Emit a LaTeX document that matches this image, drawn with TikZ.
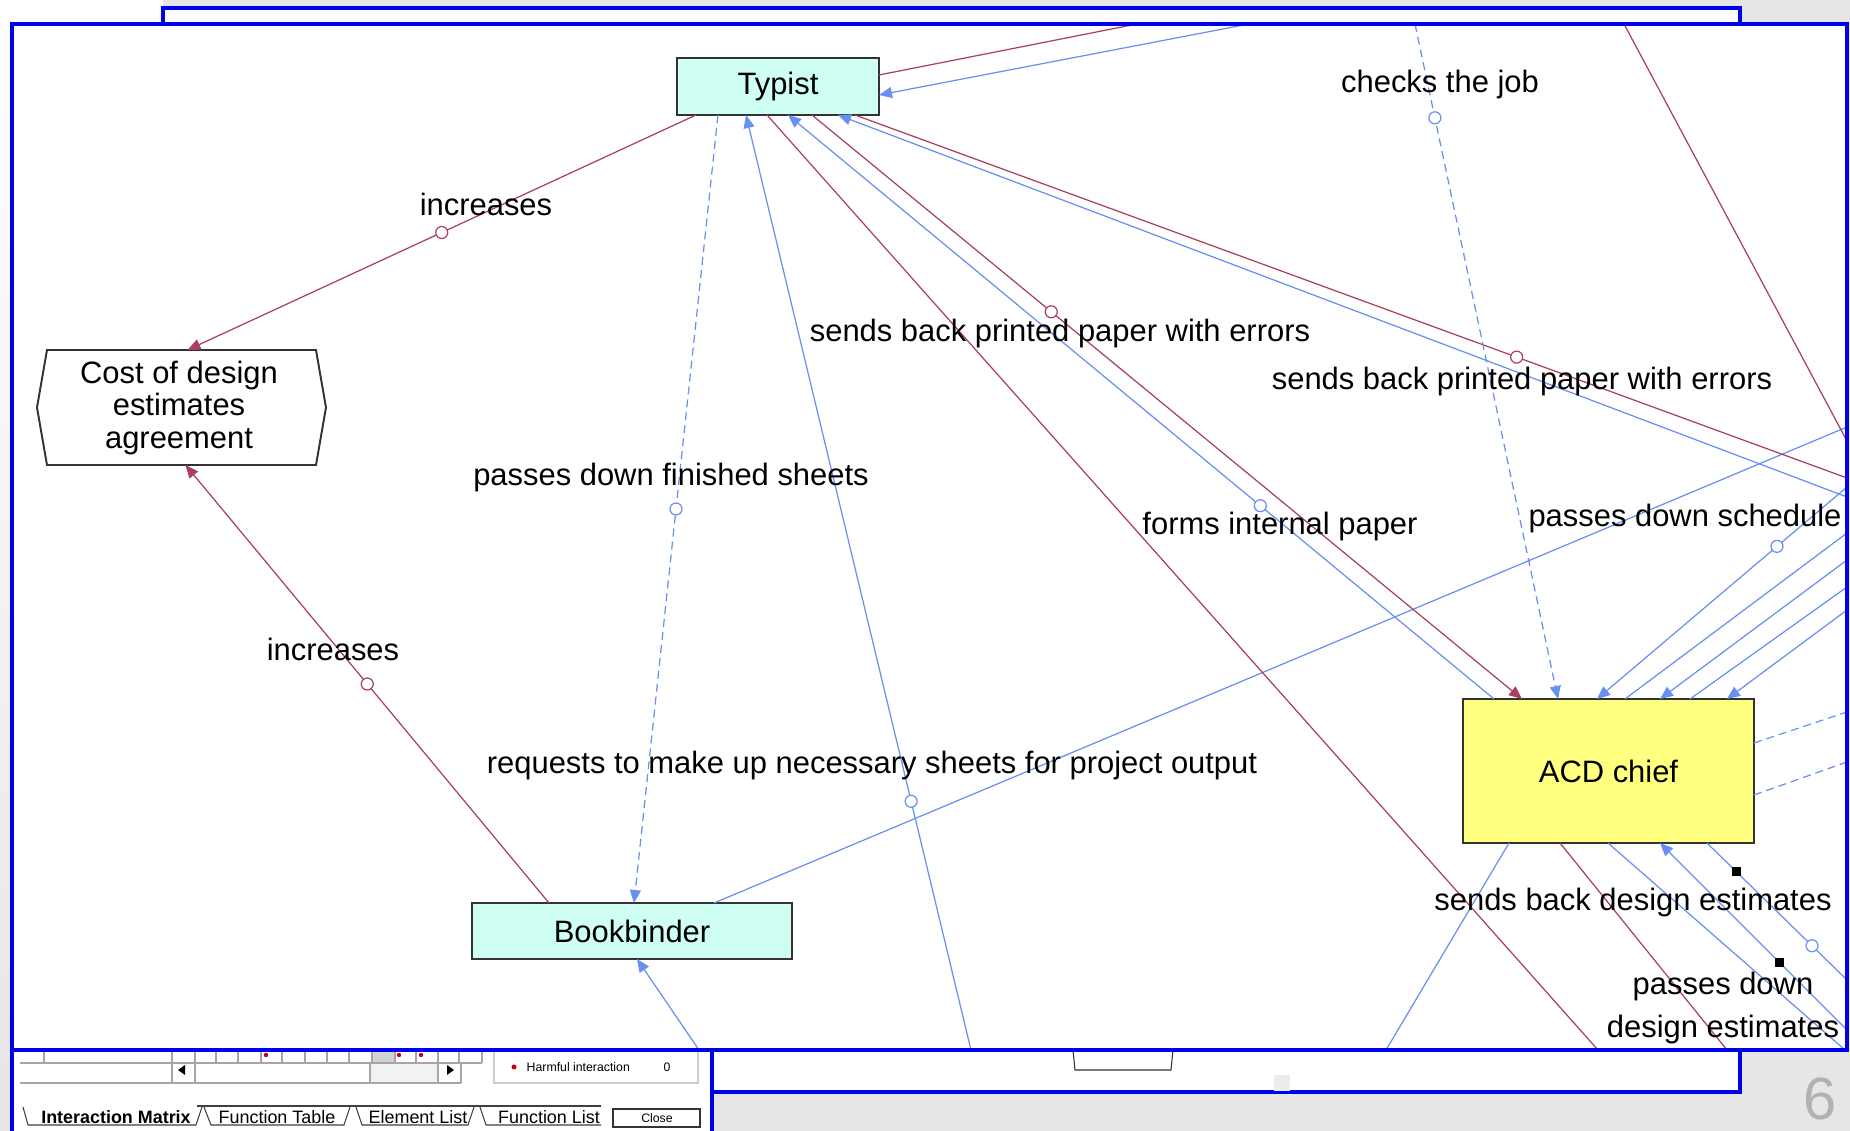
\documentclass[tikz,border=0pt]{standalone}
\usepackage{fontspec}
\setmainfont{Liberation Sans}
\usepackage{tikz}
\usetikzlibrary{calc}
\usetikzlibrary{arrows.meta}
\usepackage{xcolor}

\definecolor{harm}{RGB}{168,64,96}
\definecolor{use}{RGB}{104,144,240}
\definecolor{frameblue}{RGB}{0,0,235}
\definecolor{boxcyan}{RGB}{206,255,242}
\definecolor{boxyellow}{RGB}{255,255,128}
\definecolor{slidegray}{RGB}{230,230,230}
\definecolor{dotred}{RGB}{200,0,20}

\newcommand{\lblfont}{\fontsize{8.8}{10.5}\selectfont}
\newcommand{\tabfont}{\fontsize{5.1}{6}\selectfont}
\newcommand{\smallpanelfont}{\fontsize{3.5}{4}\selectfont}

\tikzset{
  element/.style={draw=black!80, line width=0.55pt, inner sep=0pt, outer sep=0pt, font=\lblfont},
  linklabel/.style={inner sep=0pt, font=\lblfont},
  useful/.style={color=use, line width=0.35pt},
  harmful/.style={color=harm, line width=0.35pt},
  wished/.style={useful, dash pattern=on 0.8mm off 0.5mm},
  ring/.style={circle, draw, solid, fill=white, minimum size=1.2mm, inner sep=0pt, line width=0.35pt},
  blob/.style={fill=black, minimum size=0.9mm, inner sep=0pt},
  win/.style={draw=frameblue, line width=1.15pt},
  panelline/.style={draw=gray!70, line width=0.3pt},
}

\begin{document}
\begin{tikzpicture}[x=0.1mm, y=-0.1mm, >={Triangle[length=1.3mm, width=1.1mm]}]
        \useasboundingbox (0,0) rectangle (1850,1131);
        \fill[slidegray] (0,0) rectangle (1850,1131);
        \shade[top color=white, bottom color=slidegray] (0,0) rectangle (12,1131);
        \fill[white] (0,0) rectangle (163,24);
        % window behind
        \draw[win, fill=white] (163,8) rectangle (1740,1092);
        \draw[black!80, line width=0.3pt] (1073,1050) -- (1075,1070) -- (1171,1070) -- (1173,1050);
        \fill[gray!15] (1274,1075) rectangle (1290,1091);
        % software panel
        \fill[white] (12,1050) rectangle (712,1131);
        \fill[gray!35] (372,1051) rectangle (395,1063);
        \fill[gray!10] (370,1064) rectangle (438,1083);
        \draw[panelline] (20,1063) -- (482,1063) (44,1050) -- (44,1063) (172,1050) -- (172,1063)
          (195,1050) -- (195,1063) (216,1050) -- (216,1063) (238,1050) -- (238,1063)
          (261,1050) -- (261,1063) (282,1050) -- (282,1063) (305,1050) -- (305,1063)
          (327,1050) -- (327,1063) (349,1050) -- (349,1063) (372,1050) -- (372,1063)
          (395,1050) -- (395,1063) (416,1050) -- (416,1063) (438,1050) -- (438,1063)
          (459,1050) -- (459,1063) (482,1050) -- (482,1063);
        \draw[panelline] (20,1083) -- (461,1083) (172,1063) -- (172,1083) (195,1063) -- (195,1083)
          (370,1063) -- (370,1083) (438,1063) -- (438,1083) (461,1063) -- (461,1083);
        \fill[dotred] (266,1055) circle (0.22mm);
        \fill[dotred] (399,1055) circle (0.22mm);
        \fill[dotred] (421,1055) circle (0.22mm);
        \fill (178,1070) -- (185,1065) -- (185,1075) -- cycle;
        \fill (454,1070) -- (447,1065) -- (447,1075) -- cycle;
        \draw[gray!40, line width=0.3pt] (494,1043) rectangle (698,1083);
        \fill[dotred] (514,1067) circle (0.25mm);
        \node[anchor=west, inner sep=0pt, font=\smallpanelfont] (harmful) at (526,1067) {Harmful interaction};
        \node[inner sep=0pt, font=\smallpanelfont] (harmfulcount) at (667,1067) {0};
        \draw[black!75, line width=0.3pt] (197,1106) -- (601,1106);
        \draw[black!75, line width=0.3pt] (23,1107) -- (28,1125) -- (196,1125) -- (202,1107);
        \draw[black!75, line width=0.3pt] (204,1107) -- (211,1125) -- (344,1125) -- (350,1107);
        \draw[black!75, line width=0.3pt] (356,1107) -- (362,1125) -- (468,1125) -- (474,1107);
        \draw[black!75, line width=0.3pt] (480,1107) -- (486,1125) -- (601,1125);
        \node[inner sep=0pt, font=\tabfont\bfseries] (tabmatrix) at (116,1117) {Interaction Matrix};
        \node[inner sep=0pt, font=\tabfont] (tabtable) at (277,1117) {Function Table};
        \node[inner sep=0pt, font=\tabfont] (tabelements) at (418,1117) {Element List};
        \node[inner sep=0pt, font=\tabfont] (tabfunctions) at (549,1117) {Function List};
        \draw[black!80, line width=0.45pt] (613,1109) rectangle (700,1127);
        \node[inner sep=0pt, font=\smallpanelfont] (close) at (657,1118) {Close};
        \draw[win] (12,1050) -- (12,1131);
        \draw[win] (712,1050) -- (712,1131);
        % front window
        \fill[white] (12,24) rectangle (1847,1050);
        \begin{scope}
        \clip (12,24) rectangle (1847,1050);
        \node[element, fill=boxcyan, minimum width=20.2mm, minimum height=5.7mm] (typist) at (778,86.5) {Typist};
        \node[element, fill=boxcyan, minimum width=32mm, minimum height=5.6mm] (binder) at (632,931) {Bookbinder};
        \node[element, fill=boxyellow, minimum width=29.1mm, minimum height=14.4mm] (chief) at (1608.5,771) {ACD chief};
        \node[inner sep=0pt, outer sep=0pt, minimum width=26.9mm, minimum height=11.5mm] (cost) at (181.5,407.5) {};
        \draw[black!80, line width=0.55pt] (cost.north west) -- ($(cost.west)+(-10,0)$) -- (cost.south west)
          -- (cost.south east) -- ($(cost.east)+(10,0)$) -- (cost.north east) -- cycle;
        \node[align=center, inner sep=0pt, font=\fontsize{8.8}{9.25}\selectfont] (costtext) at (179,408) {Cost of design\\estimates\\agreement};
        \coordinate (n1) at (1137,24);
        \coordinate (n2) at (1249,24);
        \coordinate (n3) at (1415,24);
        \coordinate (n4) at (1624,24);
        \coordinate (e1) at (1847,427);
        \coordinate (e2) at (1847,441);
        \coordinate (e3) at (1847,478);
        \coordinate (e4) at (1847,497);
        \coordinate (e5) at (1847,487);
        \coordinate (e6) at (1847,533);
        \coordinate (e7) at (1847,560);
        \coordinate (e8) at (1847,587);
        \coordinate (e9) at (1847,610);
        \coordinate (e10) at (1847,712);
        \coordinate (e11) at (1847,762);
        \coordinate (e12) at (1847,980);
        \coordinate (e13) at (1847,1030);
        \coordinate (s1) at (699,1050);
        \coordinate (s2) at (971,1050);
        \coordinate (s3) at (1386,1050);
        \coordinate (s4) at (1598,1050);
        \coordinate (s5) at (1727,1050);
        \coordinate (s6) at (1845,1050);
        \draw[harmful,->] ($(typist.south west)+(19,0)$) -- node[ring,pos=0.5]{} ($(cost.north)+(6,0)$);
        \draw[harmful,->] ($(binder.north west)+(77,0)$) -- node[ring,pos=0.5]{} ($(cost.south)+(4,0)$);
        \draw[wished,->] ($(typist.south west)+(41,0)$) -- node[ring,pos=0.5]{} ($(binder.north west)+(162,0)$);
        \draw[useful,->] (s2) -- node[ring,pos=0.266]{} ($(typist.south west)+(69,0)$);
        \draw[useful] ($(binder.north west)+(242,0)$) -- (e1);
        \draw[useful,->] (s1) -- ($(binder.south west)+(165,0)$);
        \draw[harmful] ($(typist.north east)+(0,17)$) -- (n1);
        \draw[useful,->] (n2) -- ($(typist.north east)+(0,37)$);
        \draw[harmful] ($(typist.south west)+(90,0)$) -- (s4);
        \draw[useful,->] ($(chief.north west)+(31,0)$) -- node[ring,pos=0.331]{} ($(typist.south west)+(111,0)$);
        \draw[harmful,->] ($(typist.south west)+(135,0)$) -- node[ring,pos=0.337]{} ($(chief.north west)+(59,0)$);
        \draw[harmful] ($(typist.south west)+(178,0)$) -- node[ring,pos=0.667]{} (e3);
        \draw[useful,->] (e4) -- ($(typist.south west)+(161,0)$);
        \draw[wished,->] (n3) -- node[ring,pos=0.139]{} ($(chief.north west)+(95,0)$);
        \draw[useful,->] (e5) -- node[ring,pos=0.28]{} ($(chief.north west)+(134,0)$);
        \draw[useful] ($(chief.north west)+(162,0)$) -- (e6);
        \draw[useful,->] (e7) -- ($(chief.north west)+(197,0)$);
        \draw[useful] ($(chief.north west)+(227,0)$) -- (e8);
        \draw[useful,->] (e9) -- ($(chief.north west)+(264,0)$);
        \draw[wished] ($(chief.north east)+(0,44)$) -- (e10);
        \draw[wished] ($(chief.north east)+(0,96)$) -- (e11);
        \draw[useful] ($(chief.south west)+(46,0)$) -- (s3);
        \draw[harmful] ($(chief.south west)+(97,0)$) -- (s5);
        \draw[useful] ($(chief.south west)+(145,0)$) -- (s6);
        \draw[useful,->] (e13) -- node[blob,pos=0.36]{} ($(chief.south west)+(197,0)$);
        \draw[useful] ($(chief.south west)+(244,0)$) -- node[blob,pos=0.21]{} node[ring,pos=0.75]{} (e12);
        \draw[harmful] (n4) -- (e2);
        \node[linklabel] (incA) at (486,204) {increases};
        \node[linklabel] (incB) at (333,649) {increases};
        \node[linklabel] (sheets) at (671,478) {passes down finished sheets};
        \node[linklabel] (requests) at (872,766) {requests to make up necessary sheets for project output};
        \node[linklabel] (errorsA) at (1060,334) {sends back printed paper with errors};
        \node[linklabel] (errorsB) at (1522,382) {sends back printed paper with errors};
        \node[linklabel] (checks) at (1440,85) {checks the job};
        \node[linklabel] (forms) at (1280,527) {forms internal paper};
        \node[linklabel] (schedule) at (1685,519) {passes down schedule};
        \node[linklabel] (sendsdesign) at (1633,903) {sends back design estimates};
        \node[linklabel, align=center, font=\fontsize{8.8}{12}\selectfont] (passesdesign) at (1723,1008) {passes down\\design estimates};
        \end{scope}
        \draw[win] (12,24) rectangle (1847,1050);
        \node[anchor=base, inner sep=0pt, text=gray!60, font=\fontsize{17}{18}\selectfont] (slideno) at (1820,1120) {6};
      \end{tikzpicture}
\end{document}
